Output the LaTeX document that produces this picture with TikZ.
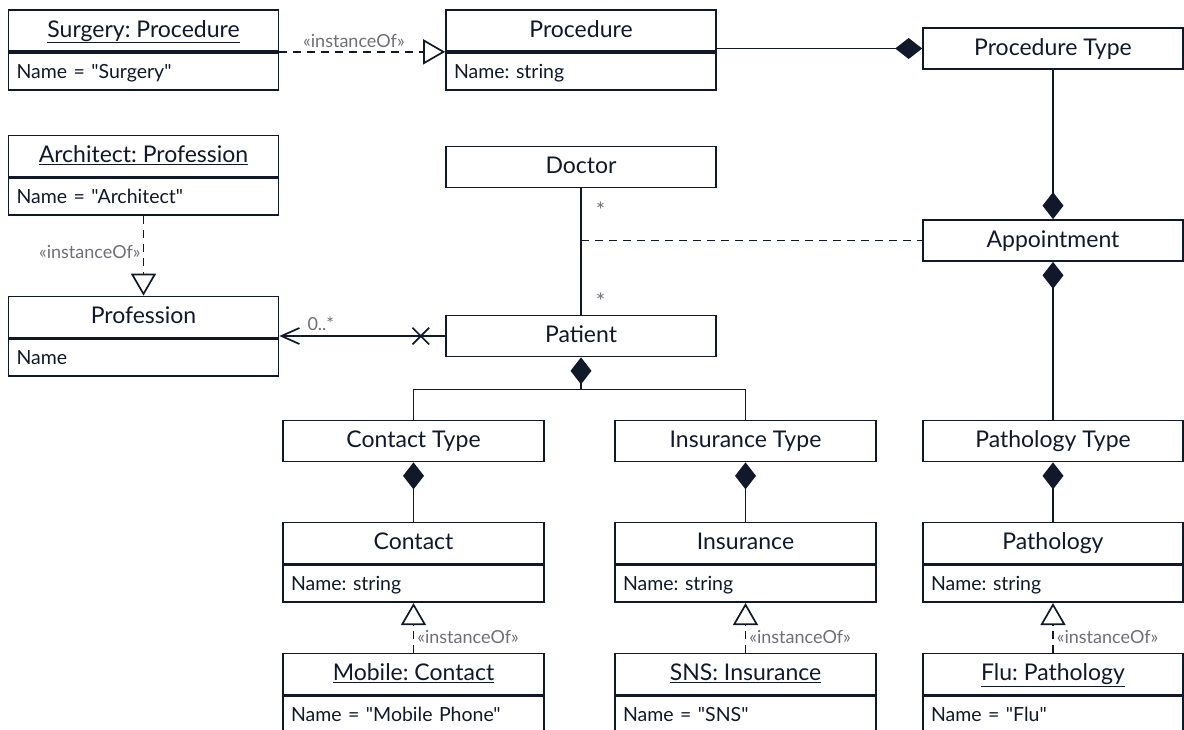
\documentclass[tikz,border=0pt]{standalone}
\usepackage{fontspec}
\setmainfont{Lato}[Ligatures=TeXOff]
\usetikzlibrary{arrows.meta,positioning,shapes.misc}
\definecolor{umlink}{RGB}{16,24,42}
\definecolor{umlgrey}{RGB}{110,110,120}
\frenchspacing

\begin{document}
\begin{tikzpicture}[
    x=1pt, y=-1pt,
    color=umlink,
    line width=1.7pt,
    cls/.style={draw, minimum width=#1, minimum height=41pt, inner sep=0pt,
        text height=18pt, text depth=5pt,
        font=\fontsize{23}{26}\selectfont},
    cls/.default=270pt,
    attr/.style={draw, text width=#1, inner xsep=8pt, inner ysep=0pt,
        text height=17pt, text depth=3pt,
        minimum height=37pt, align=left, font=\fontsize{19.5}{22}\selectfont},
    attr/.default=254pt,
    lbl/.style={text=umlgrey, inner sep=2pt, font=\fontsize{18}{20}\selectfont},
    xmk/.style={draw, cross out, minimum size=15pt, inner sep=0pt},
    comp/.style={arrows={Diamond[length=27pt,width=21pt]-}},
    inst/.style={dash pattern=on 8pt off 6pt,
        arrows={-Triangle[open,length=22pt,width=25pt]}},
    nav/.style={arrows={-Straight Barb[length=18pt,width=16pt]}},
    ]
    \useasboundingbox (0,0) rectangle (1184,729);
    \clip (0,0) rectangle (1184,729);

    % left column
    \node[cls] (surgery) at (143.5,30.5) {\underline{Surgery: Procedure}};
    \node[attr, below=0pt of surgery] (surgeryA) {Name = "Surgery"};
    \node[cls] (architect) at (143.5,156) {\underline{Architect: Profession}};
    \node[attr, below=0pt of architect] (architectA) {Name = "Architect"};
    \node[cls] (profession) at (143.5,317) {Profession};
    \node[attr, below=0pt of profession] (professionA) {Name};

    % middle column
    \node[cls] (proc) at (581,30.5) {Procedure};
    \node[attr, below=0pt of proc] (procA) {Name: string};
    \node[cls] (doctor) at (581,167) {Doctor};
    \node[cls] (patient) at (581,336) {Patient};

    \node[cls=261pt] (ctype) at (413.5,441) {Contact Type};
    \node[cls=261pt] (contact) at (413.5,543) {Contact};
    \node[attr=245pt, below=0pt of contact] (contactA) {Name: string};
    \node[cls=261pt] (mobile) at (413.5,674) {\underline{Mobile: Contact}};
    \node[attr=245pt, below=0pt of mobile] (mobileA) {Name = "Mobile Phone"};

    \node[cls=261pt] (itype) at (745.5,441) {Insurance Type};
    \node[cls=261pt] (insur) at (745.5,543) {Insurance};
    \node[attr=245pt, below=0pt of insur] (insurA) {Name: string};
    \node[cls=261pt] (sns) at (745.5,674) {\underline{SNS: Insurance}};
    \node[attr=245pt, below=0pt of sns] (snsA) {Name = "SNS"};

    % right column
    \node[cls=260pt] (ptype) at (1053,48.5) {Procedure Type};
    \node[cls=260pt] (appt) at (1053,240.5) {Appointment};
    \node[cls=260pt] (pathtype) at (1053,441) {Pathology Type};
    \node[cls=260pt] (patho) at (1053,543) {Pathology};
    \node[attr=244pt, below=0pt of patho] (pathoA) {Name: string};
    \node[cls=260pt] (flu) at (1053,674) {\underline{Flu: Pathology}};
    \node[attr=244pt, below=0pt of flu] (fluA) {Name = "Flu"};

    % instanceOf links
    \draw[inst] (surgery.south east) --
        node[lbl, above=1pt, pos=0.45] {«instanceOf»} (proc.south west);
    \draw[inst] (architectA.south) --
        node[lbl, left, pos=0.45] {«instanceOf»} (profession.north);
    \draw[inst] (mobile.north) --
        node[lbl, right=1pt, pos=0.32] {«instanceOf»} (contactA.south);
    \draw[inst] (sns.north) --
        node[lbl, right=1pt, pos=0.32] {«instanceOf»} (insurA.south);
    \draw[inst] (flu.north) --
        node[lbl, right=1pt, pos=0.32] {«instanceOf»} (pathoA.south);

    % compositions
    \draw[comp] (ptype.west) -- (ptype.west -| proc.east);
    \draw[comp] (appt.north) -- (ptype.south);
    \draw[comp] (appt.south) -- (pathtype.north);
    \draw[comp] (ctype.south) -- (contact.north);
    \draw[comp] (itype.south) -- (insur.north);
    \draw[comp] (pathtype.south) -- (patho.north);
    \coordinate[below=32pt of patient.south] (fork);
    \draw[comp] (patient.south) -- (fork);
    \draw (ctype.north) |- (fork) -| (itype.north);

    % doctor -- patient with association class
    \draw (doctor.south) --
        node[lbl, pos=0.17, right=12pt, font=\fontsize{22}{24}\selectfont] {*}
        node[lbl, pos=0.89, right=12pt, font=\fontsize{22}{24}\selectfont] {*}
        (patient.north);
    \coordinate (link) at (doctor.south |- appt.west);
    \draw[dash pattern=on 8pt off 6pt] (link) -- (appt.west);

    % patient -> profession
    \node[xmk, left=16pt of patient.west] (noNav) {};
    \draw[nav] (patient.west) --
        node[lbl, above=3pt, pos=0.75] {0..*} (patient.west -| profession.east);
\end{tikzpicture}
\end{document}
